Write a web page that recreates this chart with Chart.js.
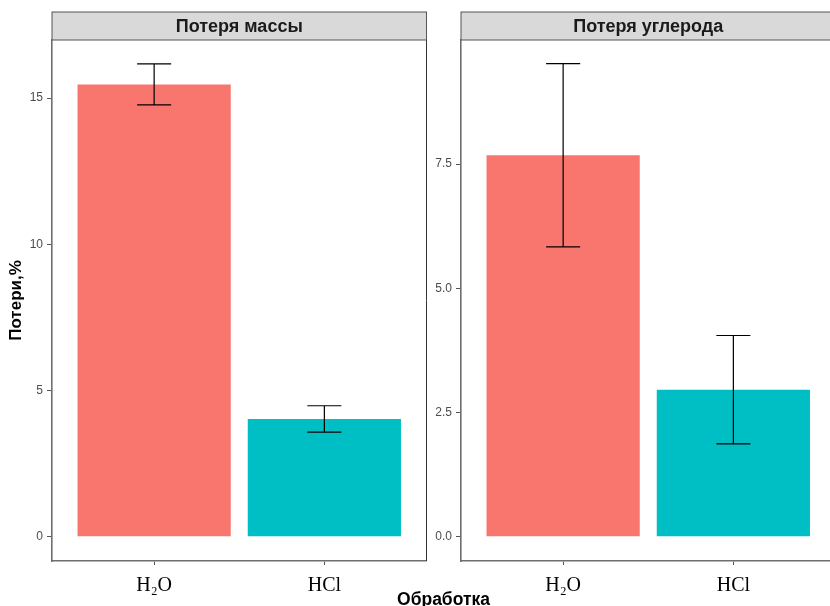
<!DOCTYPE html>
<html><head><meta charset="utf-8">
<script src="https://cdn.jsdelivr.net/npm/chart.js@4/dist/chart.umd.min.js"></script>
<style>
html,body{margin:0;padding:0;background:#fff;overflow:hidden;width:830px;height:606px;}
#wrap{position:relative;width:830px;height:606px;overflow:hidden;background:#fff;}
#c1{position:absolute;left:0;top:0;}
#c2{position:absolute;left:420px;top:0;}
</style></head><body>
<div id="wrap"><canvas id="c1" width="520" height="606"></canvas><canvas id="c2" width="440" height="606"></canvas></div>
<script>
// ---- data ----
const categories = ['H₂O', 'HCl'];
const massLoss = [15.47, 4.03];
const massErr = [0.70, 0.45];
const carbonLoss = [7.68, 2.96];
const carbonErr = [1.845, 1.09];
const massTicks = [0, 5, 10, 15];
const massTickLabels = ['0', '5', '10', '15'];
const carbonTicks = [0, 2.5, 5, 7.5];
const carbonTickLabels = ['0.0', '2.5', '5.0', '7.5'];
const panelTitles = ['Потеря массы', 'Потеря углерода'];
const yTitle = 'Потери,%';
const xTitle = 'Обработка';
const barColors = ['#F8766D', '#00BFC4'];

const SANS = '"Liberation Sans", Arial, sans-serif';
const SERIF = '"Liberation Serif", "Times New Roman", serif';
const AXIS_COL = '#6e6e6e';

function facetPlugin(title, errs, drawXTitle) {
  return {
    id: 'facet',
    afterDatasetsDraw(chart) {
      const ctx = chart.ctx;
      const meta = chart.getDatasetMeta(0);
      const ys = chart.scales.y, xs = chart.scales.x;
      const capHalf = xs.getPixelForValue(1.1) - xs.getPixelForValue(1);
      const vals = chart.data.datasets[0].data;
      ctx.save();
      ctx.strokeStyle = '#000';
      ctx.lineWidth = 1.2;
      meta.data.forEach((bar, i) => {
        const v = vals[i].y, e = errs[i];
        const x = bar.x;
        const yt = ys.getPixelForValue(v + e), yb = ys.getPixelForValue(v - e);
        ctx.beginPath();
        ctx.moveTo(x, yt); ctx.lineTo(x, yb);
        ctx.moveTo(x - capHalf, yt); ctx.lineTo(x + capHalf, yt);
        ctx.moveTo(x - capHalf, yb); ctx.lineTo(x + capHalf, yb);
        ctx.stroke();
      });
      ctx.restore();
    },
    afterDraw(chart) {
      const ctx = chart.ctx;
      const a = chart.chartArea;
      ctx.save();
      ctx.strokeStyle = '#333';
      ctx.lineWidth = 1;
      ctx.beginPath();
      ctx.moveTo(a.right, a.top); ctx.lineTo(a.right, a.bottom);
      ctx.stroke();
      ctx.fillStyle = '#D9D9D9';
      ctx.fillRect(a.left, 12, a.right - a.left, a.top - 12);
      ctx.strokeStyle = '#555';
      ctx.strokeRect(a.left, 12, a.right - a.left, a.top - 12);
      ctx.fillStyle = '#1A1A1A';
      ctx.font = 'bold 18px ' + SANS;
      ctx.textAlign = 'center';
      ctx.textBaseline = 'middle';
      ctx.fillText(title, (a.left + a.right) / 2, 27);
      if (drawXTitle) {
        ctx.fillStyle = '#000';
        ctx.font = 'bold 17.5px ' + SANS;
        ctx.textBaseline = 'alphabetic';
        ctx.fillText(xTitle, 443.5, 605);
      }
      ctx.restore();
    }
  };
}

function makePanel(canvasId, values, errs, ticks, tickLabels, title, yMin, yMax, yWidth, padRight, withYTitle, withXTitle) {
  const yScale = {
    type: 'linear',
    min: yMin, max: yMax,
    afterBuildTicks: s => { s.ticks = ticks.map(v => ({ value: v })); },
    afterFit: s => { s.width = yWidth; },
    ticks: {
      callback: (v, i) => tickLabels[i],
      color: '#4D4D4D',
      font: { family: SANS, size: 12 },
      padding: 4
    },
    grid: { display: true, offset: false, drawOnChartArea: false, drawTicks: true, tickLength: 5, color: '#555', lineWidth: 1 },
    border: { display: true, color: AXIS_COL, width: 1.6 }
  };
  if (withYTitle) {
    yScale.title = {
      display: true, text: yTitle, color: '#000',
      font: { family: SANS, size: 17, weight: 'bold' },
      padding: { top: 6, bottom: 0 }
    };
  }
  return new Chart(document.getElementById(canvasId), {
    type: 'bar',
    data: {
      datasets: [{
        data: values.map((v, i) => ({ x: i + 1, y: v })),
        backgroundColor: barColors,
        borderWidth: 0,
        barPercentage: 0.9,
        categoryPercentage: 1.0
      }]
    },
    options: {
      responsive: false,
      animation: false,
      events: [],
      layout: { padding: { top: 40, left: 0, right: padRight, bottom: 0 } },
      plugins: { legend: { display: false }, tooltip: { enabled: false }, title: { display: false } },
      scales: {
        x: {
          type: 'linear', min: 0.4, max: 2.6, offset: false,
          afterBuildTicks: s => { s.ticks = categories.map((c, i) => ({ value: i + 1 })); },
          afterFit: s => { s.height = 45; },
          ticks: {
            callback: (v, i) => categories[i],
            color: '#000',
            font: { family: SERIF, size: 20 },
            padding: 9, maxRotation: 0, autoSkip: false
          },
          grid: { display: true, offset: false, drawOnChartArea: false, drawTicks: true, tickLength: 4, color: '#555', lineWidth: 1 },
          border: { display: true, color: AXIS_COL, width: 1.6 }
        },
        y: yScale
      }
    },
    plugins: [facetPlugin(title, errs, withXTitle)]
  });
}

makePanel('c1', massLoss, massErr, massTicks, massTickLabels, panelTitles[0],
  -0.83, 16.99, 52, 520 - 426.5, true, true);
makePanel('c2', carbonLoss, carbonErr, carbonTicks, carbonTickLabels, panelTitles[1],
  -0.49, 10.0, 41, 440 - 415.5, false, false);
</script>
</body></html>
